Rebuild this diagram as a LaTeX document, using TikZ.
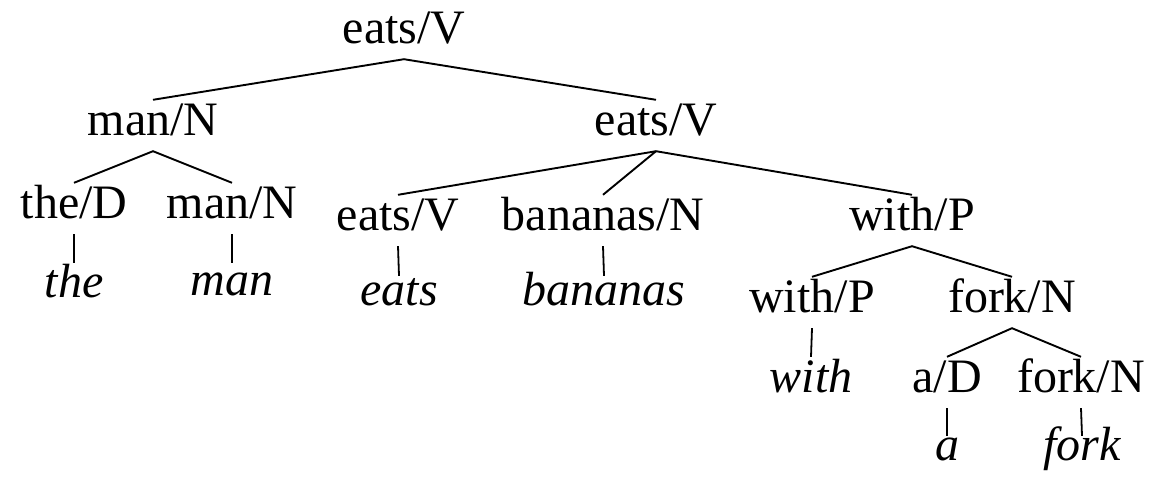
\documentclass[tikz,border=0pt]{standalone}
\usepackage{fontspec}
\setmainfont{Liberation Serif}
\begin{document}
\begin{tikzpicture}[x=1pt,y=-1pt,
  cat/.style={anchor=base,font=\fontsize{48}{52}\selectfont,inner xsep=0pt,
    inner ysep=8pt,text height=27pt,text depth=8pt},
  word/.style={anchor=base,font=\fontsize{48}{52}\selectfont\itshape,inner xsep=0pt,
    inner ysep=0pt,text depth=0pt},
  branch/.style={line width=1.9pt},
  stem/.style={line width=1.8pt}]
\useasboundingbox (0,0) rectangle (1153,482);
% category nodes
\node[cat] (s)   at (404,43)  {eats/V};
\node[cat] (np)  at (153,135) {man/N};
\node[cat] (vp)  at (656,135) {eats/V};
\node[cat] (d1)  at (74,218)  {the/D};
\node[cat] (n1)  at (232,218) {man/N};
\node[cat] (v)   at (398,230) {eats/V};
\node[cat] (n2)  at (603,230) {bananas/N};
\node[cat] (pp)  at (912,230) {with/P};
\node[cat] (p)   at (812,312) {with/P};
\node[cat] (np2) at (1012,312) {fork/N};
\node[cat] (d2)  at (947,392) {a/D};
\node[cat] (n3)  at (1081,392) {fork/N};
% words
\node[word,text height=34pt] (wthe)  at (74,297)  {the};
\node[word,text height=32pt] (wman)  at (232,295) {man};
\node[word,text height=29pt] (weats) at (399,305) {eats};
\node[word,text height=29pt] (wban)  at (604,305) {bananas};
\node[word,text height=35pt] (wwith) at (811,392) {with};
\node[word,text height=24pt] (wa)    at (947,460) {a};
\node[word,text height=24pt] (wfork) at (1082,460) {fork};
% branches
\draw[branch] (np.north) -- (s.south) -- (vp.north);
\draw[branch] (d1.north) -- (np.south) -- (n1.north);
\draw[branch] (v.north) -- (vp.south) -- (pp.north);
\draw[branch] (vp.south) -- (n2.north);
\draw[branch] (p.north) -- (pp.south) -- (np2.north);
\draw[branch] (d2.north) -- (np2.south) -- (n3.north);
% stems to the words
\draw[stem] (d1.south) -- (wthe.north);
\draw[stem] (n1.south) -- (wman.north);
\draw[stem] (v.south) -- (weats.north);
\draw[stem] (n2.south) -- (wban.north);
\draw[stem] (p.south) -- (wwith.north);
\draw[stem] (d2.south) -- (wa.north);
\draw[stem] (n3.south) -- (wfork.north);
\end{tikzpicture}
\end{document}
